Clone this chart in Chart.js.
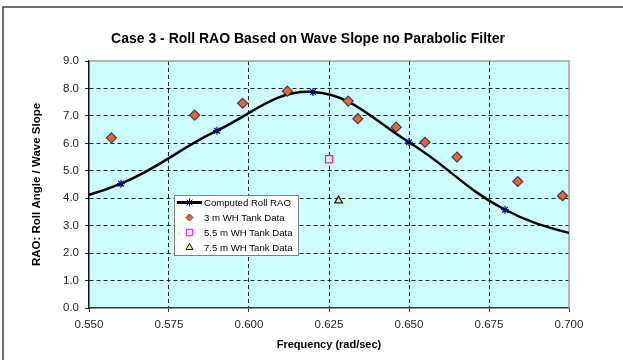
<!DOCTYPE html>
<html>
<head>
<meta charset="utf-8">
<title>Case 3 - Roll RAO</title>
<script src="https://cdn.jsdelivr.net/npm/chart.js@4.4.1/dist/chart.umd.min.js"></script>
<style>
    html, body { margin: 0; padding: 0; background: #fff; }
    #raoChart { display: block; }
</style>
</head>
<body>
<canvas id="raoChart" width="623" height="360"></canvas>
<script>
// 计算曲线 (computed roll RAO), first and last points sit just outside the axis range
const computedFreq = [0.53, 0.56, 0.59, 0.62, 0.65, 0.68, 0.71];
const computedRao  = [3.55, 4.53, 6.46, 7.87, 6.04, 3.58, 2.38];

// tank test data
const wh3Freq = [0.557, 0.583, 0.598, 0.612, 0.631, 0.634, 0.646, 0.655, 0.665, 0.684, 0.698];
const wh3Rao  = [6.20, 7.03, 7.46, 7.90, 7.54, 6.90, 6.59, 6.04, 5.50, 4.61, 4.09];
const wh55Freq = [0.625];
const wh55Rao  = [5.42];
const wh75Freq = [0.628];
const wh75Rao  = [3.91];

// axis ticks
const xTicks = [0.550, 0.575, 0.600, 0.625, 0.650, 0.675, 0.700];
const yTicks = [0, 1, 2, 3, 4, 5, 6, 7, 8, 9];

const chartTitle = 'Case 3 - Roll RAO Based on Wave Slope no Parabolic Filter';
const legendLabels = ['Computed Roll RAO', '3 m WH Tank Data', '5.5 m WH Tank Data', '7.5 m WH Tank Data'];

const FONT = '"Liberation Sans", Arial, sans-serif';

function toPoints(xs, ys) {
    return xs.map((x, i) => ({ x: x, y: ys[i] }));
}

// hide dashed grid line where it meets the plot border
function isEdge(value, list) {
    return Math.abs(value - list[0]) < 1e-6 || Math.abs(value - list[list.length - 1]) < 1e-6;
}

// 背景、边框、标题、图例
const plotDecor = {
    id: 'plotDecor',
    beforeDraw(chart) {
        const { ctx, chartArea: a } = chart;
        ctx.save();
        ctx.fillStyle = '#CCFFFF';
        ctx.fillRect(a.left, a.top, a.right - a.left, a.bottom - a.top);
        // outer frame (left and top only)
        ctx.strokeStyle = '#404040';
        ctx.lineWidth = 1.5;
        ctx.beginPath();
        ctx.moveTo(3, 360);
        ctx.lineTo(3, 7);
        ctx.lineTo(623, 7);
        ctx.stroke();
        // title, centred on the whole picture rather than the plot
        ctx.fillStyle = '#000000';
        ctx.font = 'bold 14px ' + FONT;
        ctx.textAlign = 'center';
        ctx.textBaseline = 'middle';
        ctx.fillText(chartTitle, 308, 39.5);
        ctx.restore();
    },
    beforeDatasetsDraw(chart) {
        const { ctx, chartArea: a } = chart;
        ctx.save();
        ctx.strokeStyle = '#A0A0A0';
        ctx.lineWidth = 1.5;
        ctx.beginPath();
        ctx.moveTo(a.left, a.top);
        ctx.lineTo(a.right, a.top);
        ctx.lineTo(a.right, a.bottom);
        ctx.stroke();
        ctx.restore();
    },
    afterDraw(chart) {
        const ctx = chart.ctx;
        const bx = 174, by = 195, bw = 124, bh = 60;
        ctx.save();
        ctx.fillStyle = '#ffffff';
        ctx.fillRect(bx, by, bw, bh);
        ctx.strokeStyle = '#808080';
        ctx.lineWidth = 1;
        ctx.strokeRect(bx + 0.5, by + 0.5, bw, bh);

        const mx = 189.5, tx = 204;
        const rows = [202.5, 217.5, 232.5, 247.5];

        // line sample
        ctx.strokeStyle = '#000000';
        ctx.lineWidth = 3;
        ctx.beginPath();
        ctx.moveTo(177, rows[0]);
        ctx.lineTo(202, rows[0]);
        ctx.stroke();

        const marks = [
            { style: 'star', r: 4, fill: '#000080', stroke: '#000080' },
            { style: 'rectRot', r: 3.5, fill: '#FF6600', stroke: '#333399' },
            { style: 'rect', r: 4.5, fill: '#CCFFCC', stroke: '#FF00FF' },
            { style: 'triangle', r: 4, fill: '#FFFF00', stroke: '#000080' }
        ];
        marks.forEach((m, i) => {
            ctx.fillStyle = m.fill;
            ctx.strokeStyle = m.stroke;
            ctx.lineWidth = 1;
            Chart.helpers.drawPoint(ctx, { pointStyle: m.style, radius: m.r, rotation: 0, borderWidth: 1 }, mx, rows[i]);
        });

        ctx.fillStyle = '#000000';
        ctx.font = '9.6px ' + FONT;
        ctx.textBaseline = 'middle';
        ctx.textAlign = 'left';
        legendLabels.forEach((t, i) => ctx.fillText(t, tx, rows[i] + 0.5));
        ctx.restore();
    }
};

function initRaoChart() {
    const canvas = document.getElementById('raoChart');

    new Chart(canvas, {
        type: 'scatter',
        data: {
            datasets: [
                {
                    label: legendLabels[0],
                    data: toPoints(computedFreq, computedRao),
                    showLine: true,
                    tension: 0.4,
                    borderColor: '#000000',
                    borderWidth: 2.5,
                    pointStyle: 'star',
                    pointRadius: 4,
                    pointBorderColor: '#000080',
                    pointBackgroundColor: '#000080',
                    pointBorderWidth: 1.2,
                    order: 2
                },
                {
                    label: legendLabels[1],
                    data: toPoints(wh3Freq, wh3Rao),
                    pointStyle: 'rectRot',
                    pointRadius: 5,
                    pointBackgroundColor: '#FF6600',
                    pointBorderColor: '#333399',
                    pointBorderWidth: 1.2,
                    order: 1
                },
                {
                    label: legendLabels[2],
                    data: toPoints(wh55Freq, wh55Rao),
                    pointStyle: 'rect',
                    pointRadius: 5,
                    pointBackgroundColor: '#CCFFCC',
                    pointBorderColor: '#FF00FF',
                    pointBorderWidth: 1.2,
                    order: 1
                },
                {
                    label: legendLabels[3],
                    data: toPoints(wh75Freq, wh75Rao),
                    pointStyle: 'triangle',
                    pointRadius: 4.5,
                    pointBackgroundColor: '#FFFF00',
                    pointBorderColor: '#000080',
                    pointBorderWidth: 1.2,
                    order: 1
                }
            ]
        },
        options: {
            responsive: false,
            animation: false,
            devicePixelRatio: 1,
            layout: { padding: { left: 0, right: 54, top: 61, bottom: 0 } },
            plugins: {
                legend: { display: false },
                tooltip: { enabled: false },
                title: { display: false }
            },
            scales: {
                x: {
                    type: 'linear',
                    min: xTicks[0],
                    max: xTicks[xTicks.length - 1],
                    afterFit: (scale) => { scale.height = 52; },
                    afterBuildTicks: (scale) => { scale.ticks = xTicks.map(v => ({ value: v })); },
                    ticks: {
                        color: '#222222',
                        font: { family: FONT, size: 11.5 },
                        padding: 6,
                        maxRotation: 0,
                        callback: (v) => Number(v).toFixed(3)
                    },
                    grid: {
                        color: (c) => (c.tick && isEdge(c.tick.value, xTicks)) ? 'rgba(0,0,0,0)' : '#222222',
                        tickColor: '#333333',
                        tickLength: 4,
                        lineWidth: 1
                    },
                    border: { color: '#333333', width: 1.5, dash: [4, 3] },
                    title: {
                        display: true,
                        text: 'Frequency (rad/sec)',
                        color: '#000000',
                        font: { family: FONT, size: 11, weight: 'bold' },
                        padding: { top: 0, bottom: 8.4 }
                    }
                },
                y: {
                    type: 'linear',
                    min: yTicks[0],
                    max: yTicks[yTicks.length - 1],
                    afterFit: (scale) => { scale.width = 89; },
                    afterBuildTicks: (scale) => { scale.ticks = yTicks.map(v => ({ value: v })); },
                    ticks: {
                        color: '#222222',
                        font: { family: FONT, size: 11.5 },
                        padding: 6,
                        callback: (v) => Number(v).toFixed(1)
                    },
                    grid: {
                        color: (c) => (c.tick && isEdge(c.tick.value, yTicks)) ? 'rgba(0,0,0,0)' : '#222222',
                        tickColor: '#333333',
                        tickLength: 4,
                        lineWidth: 1
                    },
                    border: { color: '#111111', width: 1.5, dash: [4, 3] },
                    title: {
                        display: true,
                        text: 'RAO: Roll Angle / Wave Slope',
                        color: '#000000',
                        font: { family: FONT, size: 11.5, weight: 'bold' },
                        padding: { top: 30.1, bottom: 0 }
                    }
                }
            }
        },
        plugins: [plotDecor]
    });
}

document.addEventListener('DOMContentLoaded', initRaoChart);
</script>
</body>
</html>
